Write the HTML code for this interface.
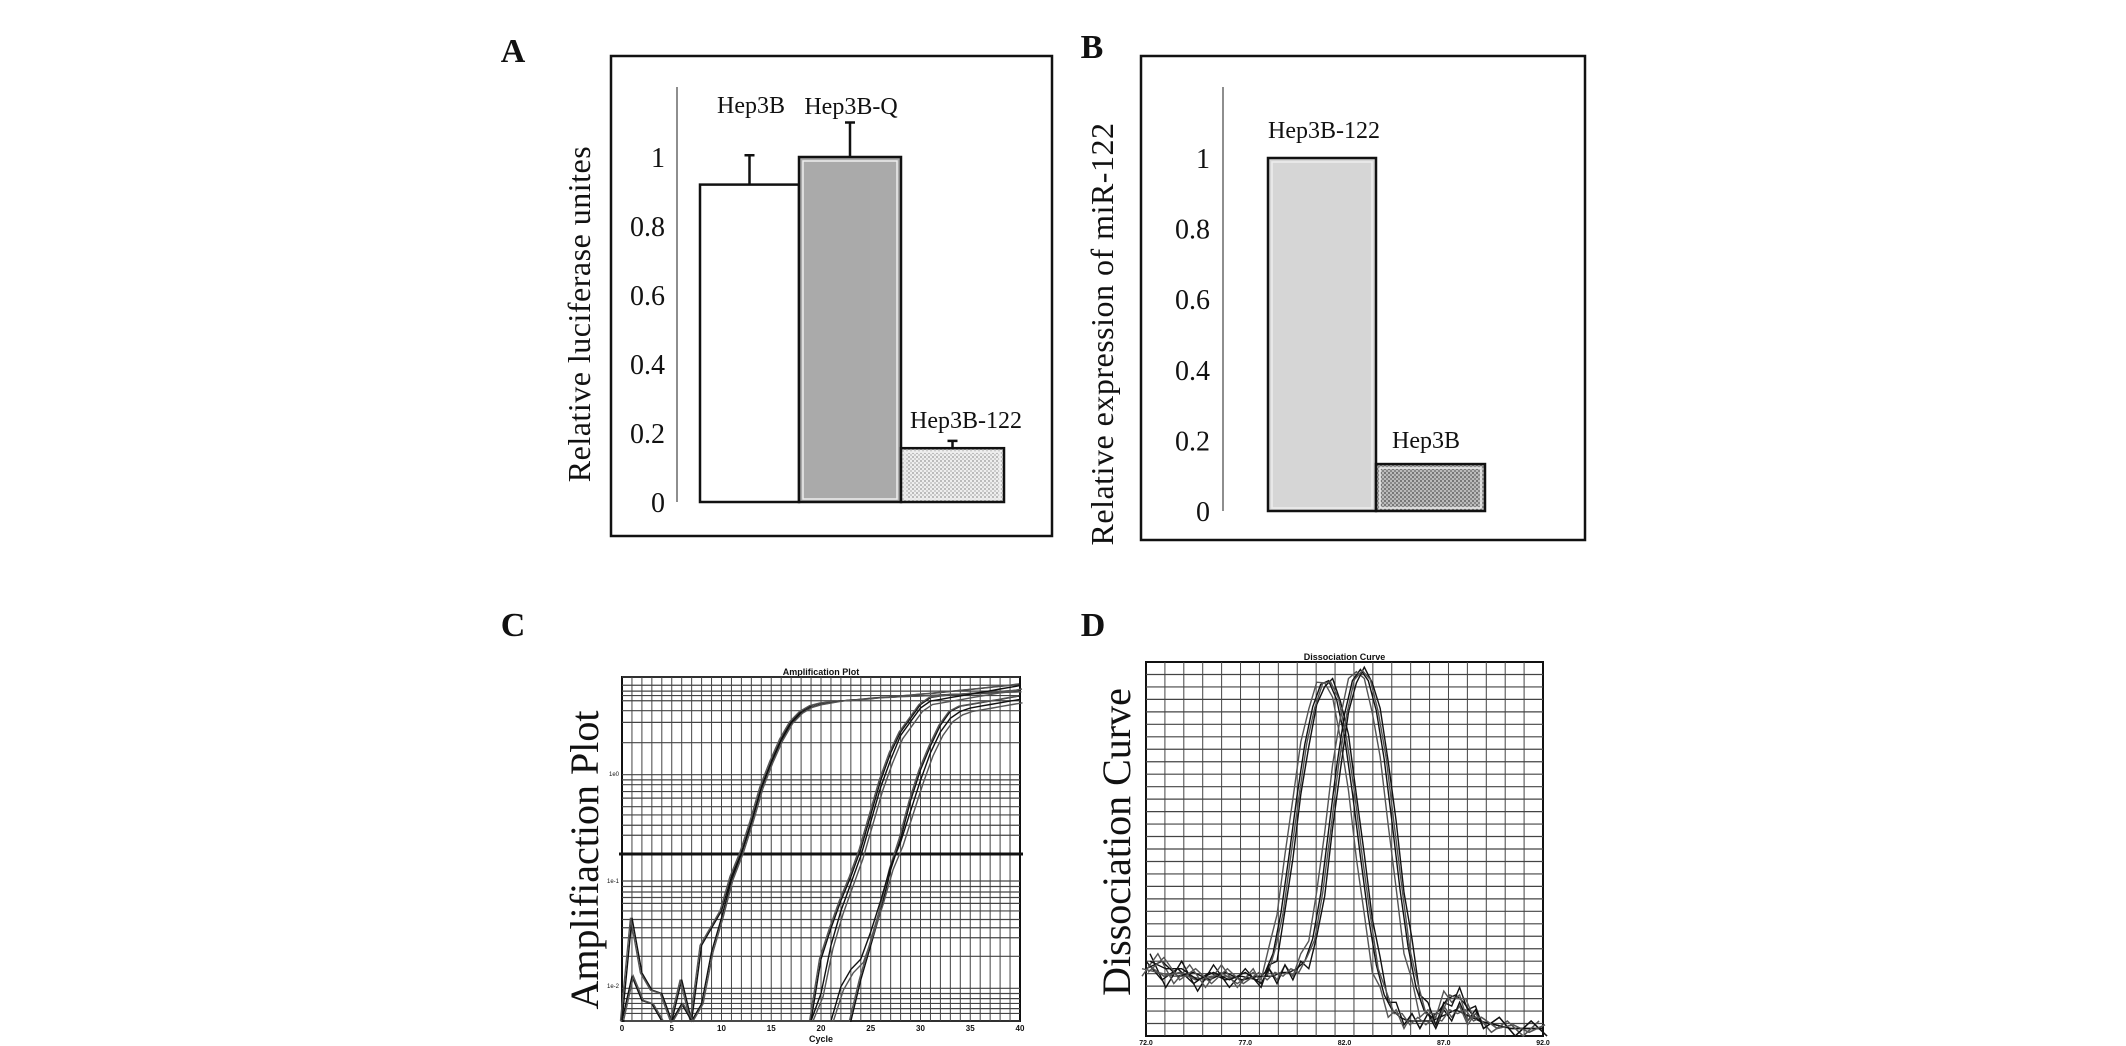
<!DOCTYPE html>
<html><head><meta charset="utf-8"><style>
html,body{margin:0;padding:0;background:#fff;}
svg{display:block;}
text{font-family:"Liberation Serif",serif;fill:#111;}
.s{font-family:"Liberation Sans",sans-serif;}
</style></head><body>
<svg id="fig" width="2126" height="1046" viewBox="0 0 2126 1046" xmlns="http://www.w3.org/2000/svg">
<defs>
<pattern id="dotLight" width="4" height="4" patternUnits="userSpaceOnUse"><rect width="4" height="4" fill="#eee"/><rect width="2" height="2" fill="#bbb"/><rect x="2" y="2" width="2" height="2" fill="#ccc"/></pattern>
<pattern id="dotDark" width="4" height="4" patternUnits="userSpaceOnUse"><rect width="4" height="4" fill="#bbb"/><rect width="2" height="2" fill="#777"/><rect x="2" y="2" width="2" height="2" fill="#888"/></pattern>
</defs>
<g id="gA"></g>
<g id="gB"></g>
<g id="gC"></g>
<g id="gD"></g>
</svg>
<script>
// ---- Panel A data ----
const catsA = ["Hep3B","Hep3B-Q","Hep3B-122"];
const valsA = [0.92, 1.0, 0.156];
const errA = [0.085, 0.10, 0.021];
const ticksA = [0,0.2,0.4,0.6,0.8,1];
const tickLabelsA = ["0","0.2","0.4","0.6","0.8","1"];
// ---- Panel B data ----
const catsB = ["Hep3B-122","Hep3B"];
const valsB = [1.0, 0.133];
const ticksB = [0,0.2,0.4,0.6,0.8,1];
const tickLabelsB = ["0","0.2","0.4","0.6","0.8","1"];
// ---- Panel C data (fraction of plot height per cycle) ----
const cyclesC = [0,1,2,3,4,5,6,7,8,9,10,11,12,13,14,15,16,17,18,19,20,21,22,23,24,25,26,27,28,29,30,31,32,33,34,35,36,37,38,39,40];
const curveC1a = [0,0.30,0.14,0.09,0.08,0,0.12,0,0.22,0.27,0.32,0.42,0.49,0.58,0.68,0.755,0.82,0.87,0.90,0.917,0.924,0.928,0.93,0.932,0.935,0.938,0.94,0.942,0.945,0.947,0.95,0.952,0.955,0.958,0.961,0.964,0.967,0.97,0.973,0.976,0.98];
const curveC1b = [0,0.13,0.06,0.05,0,0,0.05,0,0.05,0.20,0.30,0.41,0.485,0.575,0.675,0.75,0.815,0.865,0.895,0.912,0.92,0.925,0.93,0.933,0.935,0.937,0.94,0.941,0.943,0.944,0.945,0.946,0.948,0.949,0.95,0.951,0.952,0.953,0.955,0.956,0.957];
const curveC2a = [0,0,0,0,0,0,0,0,0,0,0,0,0,0,0,0,0,0,0,0,0.18,0.27,0.35,0.42,0.50,0.60,0.70,0.78,0.84,0.88,0.92,0.94,0.945,0.948,0.95,0.952,0.954,0.956,0.958,0.96,0.962];
const curveC2b = [0,0,0,0,0,0,0,0,0,0,0,0,0,0,0,0,0,0,0,0,0.08,0.22,0.32,0.40,0.48,0.58,0.68,0.76,0.83,0.87,0.91,0.93,0.935,0.94,0.945,0.95,0.955,0.96,0.965,0.97,0.975];
const curveC3a = [0,0,0,0,0,0,0,0,0,0,0,0,0,0,0,0,0,0,0,0,0,0,0,0,0.12,0.22,0.32,0.44,0.53,0.64,0.73,0.80,0.86,0.90,0.915,0.92,0.925,0.93,0.935,0.94,0.945];
const curveC3b = [0,0,0,0,0,0,0,0,0,0,0,0,0,0,0,0,0,0,0,0,0,0,0.1,0.15,0.18,0.26,0.35,0.45,0.52,0.61,0.70,0.78,0.84,0.88,0.90,0.91,0.915,0.92,0.925,0.93,0.935];
const hLinesC = [1,0.976,0.959,0.946,0.931,0.902,0.868,0.809,0.716,0.701,0.687,0.667,0.648,0.623,0.599,0.569,0.540,0.485,0.407,0.391,0.375,0.359,0.342,0.320,0.295,0.271,0.242,0.188,0.095,0.080,0.065,0.051,0.036,0.022,0];
const xTicksC = [0,5,10,15,20,25,30,35,40];
// ---- Panel D data (percent of temperature range, fraction of height) ----
const tempD = [0,4,8,12,16,20,24,28,30,32,34,36,38,40,42,44,46,48,50,52,54,56,58,60,62,64,66,68,70,72,74,76,78,80,82,84,88,92,96,100];
const curveD1 = [.20,.15,.18,.14,.17,.15,.16,.15,.17,.22,.33,.48,.64,.78,.88,.94,.95,.90,.80,.65,.48,.32,.19,.11,.07,.05,.04,.04,.04,.04,.05,.06,.07,.06,.05,.04,.03,.02,.02,.02];
const curveD2 = [.18,.20,.16,.17,.15,.17,.15,.16,.16,.16,.17,.17,.18,.20,.26,.38,.55,.72,.86,.95,.98,.95,.87,.74,.57,.39,.24,.13,.07,.05,.07,.10,.11,.09,.06,.04,.03,.02,.02,.02];
const xTickLabelsD = ["72.0","77.0","82.0","87.0","92.0"];

const NS="http://www.w3.org/2000/svg";
function mk(tag, parent, attrs){const e=document.createElementNS(NS,tag);for(const k in attrs)e.setAttribute(k,attrs[k]);parent.appendChild(e);return e;}

// ===== Panel A =====
(function(){
  const g=document.getElementById('gA');
  const y0=502, unit=345, axX=677;
  const yA=v=>y0-v*unit;
  let e;
  e=mk('text',g,{x:513,y:62,'font-size':34,'font-weight':'bold','text-anchor':'middle'});e.textContent='A';
  
  e=mk('rect',g,{x:611,y:56,width:441,height:480,fill:'none',stroke:'#111','stroke-width':2.5});
  
  e=mk('line',g,{x1:axX,y1:87,x2:axX,y2:y0,stroke:'#444','stroke-width':1.2});
  
  ticksA.forEach((t,i)=>{
    e=mk('text',g,{x:665,y:yA(t)+10,'font-size':28,'text-anchor':'end'});e.textContent=tickLabelsA[i];
    
  });
  e=mk('text',g,{x:0,y:0,'font-size':32,'text-anchor':'middle',transform:'translate(590,314) rotate(-90)','letter-spacing':'0.5'});
  e.textContent='Relative luciferase unites';
  
  const bx=[700,799,901], bw=[99,102,103];
  const fills=['#fff','#aaa','url(#dotLight)'];
  catsA.forEach((c,i)=>{
    const top=yA(valsA[i]);
    e=mk('rect',g,{x:bx[i],y:top,width:bw[i],height:y0-top,fill:fills[i],stroke:'#111','stroke-width':2.5});
    
    if(i>0){mk('rect',g,{x:bx[i]+4,y:top+4,width:bw[i]-8,height:y0-top-7,fill:'none',stroke:'#eee','stroke-width':1.5});}
    const cx=bx[i]+bw[i]/2, et=yA(valsA[i]+errA[i]);
    e=mk('path',g,{d:`M${cx},${top}V${et}M${cx-5},${et}H${cx+5}`,stroke:'#111','stroke-width':2.5,fill:'none'});
    
  });
  const lbl=[[751,113],[851,114],[966,428]];
  catsA.forEach((c,i)=>{
    e=mk('text',g,{x:lbl[i][0],y:lbl[i][1],'font-size':24,'text-anchor':'middle'});e.textContent=c;
    
  });
})();

// ===== Panel B =====
(function(){
  const g=document.getElementById('gB');
  const y0=511, unit=353, axX=1223;
  const yB=v=>y0-v*unit;
  let e;
  e=mk('text',g,{x:1092,y:58,'font-size':34,'font-weight':'bold','text-anchor':'middle'});e.textContent='B';
  
  e=mk('rect',g,{x:1141,y:56,width:444,height:484,fill:'none',stroke:'#111','stroke-width':2.5});
  
  e=mk('line',g,{x1:axX,y1:87,x2:axX,y2:y0,stroke:'#444','stroke-width':1.2});
  
  ticksB.forEach((t,i)=>{
    e=mk('text',g,{x:1210,y:yB(t)+10,'font-size':28,'text-anchor':'end'});e.textContent=tickLabelsB[i];
    
  });
  e=mk('text',g,{x:0,y:0,'font-size':32,'text-anchor':'middle',transform:'translate(1113,334) rotate(-90)','letter-spacing':'0.5'});
  e.textContent='Relative expression of miR-122';
  
  const bx=[1268,1376], bw=[108,109], fills=['#d6d6d6','url(#dotDark)'];
  catsB.forEach((c,i)=>{
    const top=yB(valsB[i]);
    e=mk('rect',g,{x:bx[i],y:top,width:bw[i],height:y0-top,fill:fills[i],stroke:'#111','stroke-width':2.5});
    
    mk('rect',g,{x:bx[i]+4,y:top+4,width:bw[i]-8,height:y0-top-7,fill:'none',stroke:'#eee','stroke-width':1.5});
  });
  const lbl=[[1324,138],[1426,448]];
  catsB.forEach((c,i)=>{
    e=mk('text',g,{x:lbl[i][0],y:lbl[i][1],'font-size':24,'text-anchor':'middle'});e.textContent=c;
    
  });
})();

// ===== Panel C =====
(function(){
  const g=document.getElementById('gC');
  const L=622,R=1020,T=677,B=1021;
  const xC=c=>L+(c/40)*(R-L);
  const yC=f=>B-Math.max(0,Math.min(1,f))*(B-T);
  let e;
  e=mk('text',g,{x:513,y:636,'font-size':34,'font-weight':'bold','text-anchor':'middle'});e.textContent='C';
  
  e=mk('text',g,{x:0,y:0,'font-size':40,'text-anchor':'middle',transform:'translate(598,860) rotate(-90)'});e.textContent='Amplifiaction Plot';
  
  e=mk('text',g,{x:(L+R)/2,y:675,'font-size':9,'text-anchor':'middle','class':'s','font-weight':'bold'});e.textContent='Amplification Plot';
  
  e=mk('rect',g,{x:L,y:T,width:R-L,height:B-T,fill:'#fff',stroke:'#111','stroke-width':2});
  
  cyclesC.forEach(c=>{ if(c>0&&c<40){mk('line',g,{x1:xC(c),y1:T,x2:xC(c),y2:B,stroke:'#444','stroke-width':1});}});
  hLinesC.forEach(f=>{mk('line',g,{x1:L,y1:yC(f),x2:R,y2:yC(f),stroke:'#444','stroke-width':1.2});});
  e=mk('line',g,{x1:L-3,y1:854,x2:R+3,y2:854,stroke:'#111','stroke-width':3});
  
  const curves=[curveC1a,curveC1b,curveC2a,curveC2b,curveC3a,curveC3b];
  const offs=[[0,0],[0.3,0],[0,0],[0.35,-0.01],[0,0],[0.4,-0.01]];
  curves.forEach((cv,i)=>{
    [0,1].forEach(k=>{
      const d=cv.map((f,j)=>(j?'L':'M')+xC(cyclesC[j]+offs[i][0]*k-0.15*k).toFixed(1)+','+yC(f+offs[i][1]*k).toFixed(1)).join('');
      e=mk('path',g,{d:d,fill:'none',stroke:k?'#555':'#111','stroke-width':1.4});
      
    });
  });
  xTicksC.forEach(c=>{
    e=mk('text',g,{x:xC(c),y:1031,'font-size':8,'text-anchor':'middle','class':'s','font-weight':'bold'});e.textContent=c;
    
  });
  e=mk('text',g,{x:(L+R)/2,y:1042,'font-size':9,'text-anchor':'middle','class':'s','font-weight':'bold'});e.textContent='Cycle';
  
  [[773,'1e0'],[880,'1e-1'],[985,'1e-2']].forEach(p=>{
    e=mk('text',g,{x:L-3,y:p[0]+3,'font-size':6,'text-anchor':'end','class':'s'});e.textContent=p[1];
    
  });
})();

// ===== Panel D =====
(function(){
  const g=document.getElementById('gD');
  const L=1146,R=1543,T=662,B=1036;
  const xD=p=>L+(p/100)*(R-L);
  const yD=f=>B-f*(B-T);
  let e;
  e=mk('text',g,{x:1093,y:636,'font-size':34,'font-weight':'bold','text-anchor':'middle'});e.textContent='D';
  
  e=mk('text',g,{x:0,y:0,'font-size':40,'text-anchor':'middle',transform:'translate(1130,842) rotate(-90)'});e.textContent='Dissociation Curve';
  
  e=mk('text',g,{x:(L+R)/2,y:660,'font-size':9,'text-anchor':'middle','class':'s','font-weight':'bold'});e.textContent='Dissociation Curve';
  
  e=mk('rect',g,{x:L,y:T,width:R-L,height:B-T,fill:'#fff',stroke:'#111','stroke-width':2});
  
  for(let i=1;i<21;i++){mk('line',g,{x1:L+i*(R-L)/21,y1:T,x2:L+i*(R-L)/21,y2:B,stroke:'#444','stroke-width':1});}
  for(let i=1;i<30;i++){mk('line',g,{x1:L,y1:T+i*(B-T)/30,x2:R,y2:T+i*(B-T)/30,stroke:'#444','stroke-width':1.2});}
  const curves=[curveD1,curveD2];
  const jit=[[0,0],[-1,0.02],[1,-0.02],[0.5,0.01]];
  curves.forEach(cv=>{
    jit.forEach((j,k)=>{
      const d=cv.map((f,i)=>(i?'L':'M')+xD(tempD[i]+j[0]).toFixed(1)+','+yD(f+(i%2?j[1]:-j[1])*(f<0.25?1:0.3)).toFixed(1)).join('');
      e=mk('path',g,{d:d,fill:'none',stroke:k%2?'#555':'#111','stroke-width':1.4});
      
    });
  });
  xTickLabelsD.forEach((t,i)=>{
    e=mk('text',g,{x:L+i*(R-L)/4,y:1045,'font-size':7,'text-anchor':'middle','class':'s','font-weight':'bold'});e.textContent=t;
    
  });
})();
</script>
</body></html>
